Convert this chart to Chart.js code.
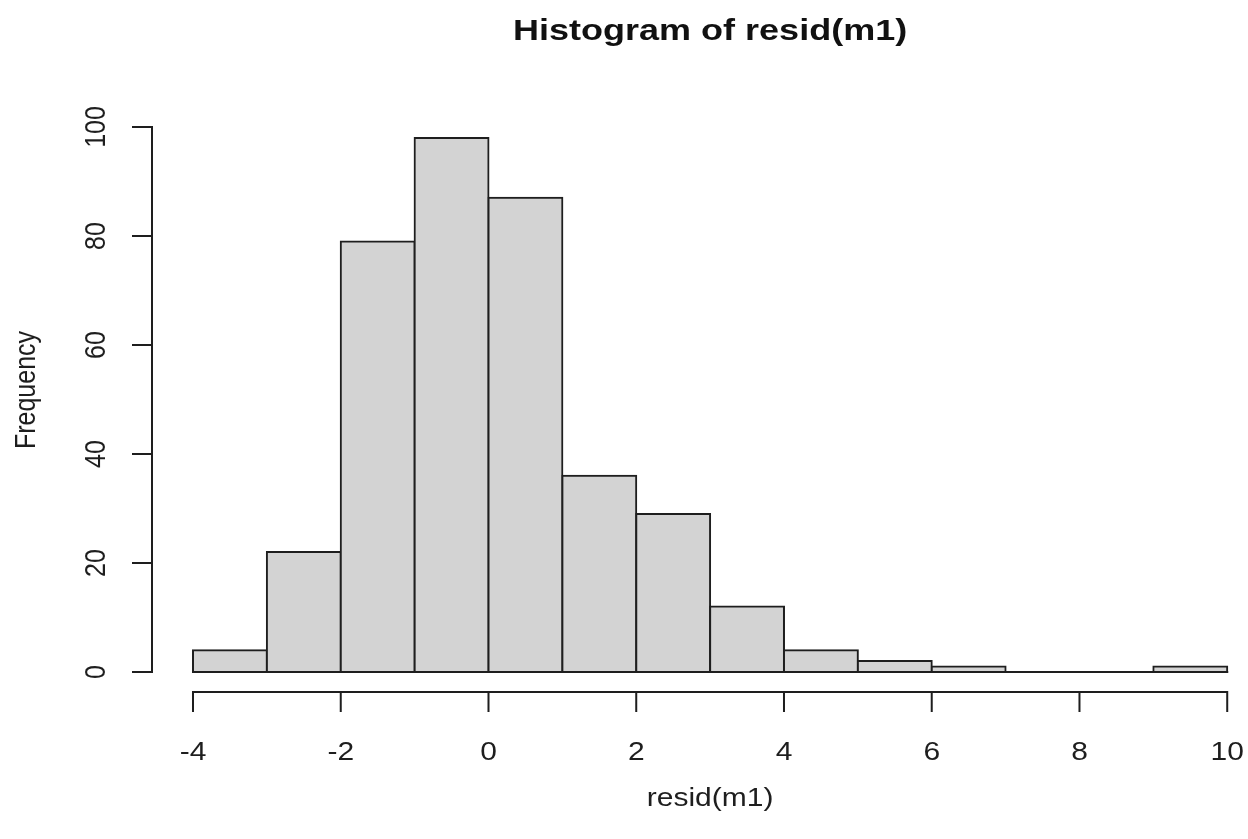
<!DOCTYPE html>
<html>
<head>
<meta charset="utf-8">
<title>Histogram of resid(m1)</title>
<script src="https://cdn.jsdelivr.net/npm/chart.js@4/dist/chart.umd.min.js"></script>
<style>
  html, body { margin: 0; padding: 0; background: #fff; }
  #hist { display: block; }
</style>
</head>
<body>
<canvas id="hist" width="1248" height="839"></canvas>
<script>
// bin edges and counts of the residuals
const breaks = [-4, -3, -2, -1, 0, 1, 2, 3, 4, 5, 6, 7, 8, 9, 10];
const counts = [4, 22, 79, 98, 87, 36, 29, 12, 4, 2, 1, 0, 0, 1];
const xTicks = [-4, -2, 0, 2, 4, 6, 8, 10];
const yTicks = [0, 20, 40, 60, 80, 100];
const mainTitle = 'Histogram of resid(m1)';
const xTitle = 'resid(m1)';
const yTitle = 'Frequency';

const mids = counts.map((c, i) => ({ x: (breaks[i] + breaks[i + 1]) / 2, y: c }));

const INK = '#1e1e1e';
const FONT = '"Liberation Sans", Arial, sans-serif';
const SX = 1.2; // text is a little wider than tall

function txt(ctx, s, x, y, rot) {
  ctx.save();
  ctx.translate(x, y);
  ctx.scale(SX, 1);
  if (rot) ctx.rotate(rot);
  ctx.fillText(s, 0, 0);
  ctx.restore();
}

// base-graphics style axes, labels and titles
const rAxes = {
  id: 'rAxes',
  afterDatasetsDraw(chart) {
    const { ctx, chartArea: a, scales: { x, y } } = chart;
    ctx.save();
    ctx.strokeStyle = INK;
    ctx.lineWidth = 2;
    ctx.lineCap = 'butt';

    // zero line under empty bins
    const y0 = y.getPixelForValue(0);
    ctx.beginPath();
    ctx.moveTo(x.getPixelForValue(breaks[0]) - 1, y0);
    ctx.lineTo(x.getPixelForValue(breaks[breaks.length - 1]) + 1, y0);
    ctx.stroke();

    // x axis
    const xa = a.bottom;
    ctx.beginPath();
    ctx.moveTo(x.getPixelForValue(xTicks[0]), xa);
    ctx.lineTo(x.getPixelForValue(xTicks[xTicks.length - 1]), xa);
    xTicks.forEach(v => {
      const px = x.getPixelForValue(v);
      ctx.moveTo(px, xa - 1);
      ctx.lineTo(px, xa + 20);
    });
    ctx.stroke();

    // y axis
    const ya = a.left;
    ctx.beginPath();
    ctx.moveTo(ya, y.getPixelForValue(yTicks[0]));
    ctx.lineTo(ya, y.getPixelForValue(yTicks[yTicks.length - 1]));
    yTicks.forEach(v => {
      const py = y.getPixelForValue(v);
      ctx.moveTo(ya + 1, py);
      ctx.lineTo(ya - 20, py);
    });
    ctx.stroke();

    ctx.fillStyle = INK;
    ctx.textAlign = 'center';
    ctx.textBaseline = 'alphabetic';
    ctx.font = '25px ' + FONT;
    xTicks.forEach(v => txt(ctx, String(v), x.getPixelForValue(v), 760));
    yTicks.forEach(v => txt(ctx, String(v), 105, y.getPixelForValue(v), -Math.PI / 2));

    txt(ctx, xTitle, x.getPixelForValue((breaks[0] + breaks[breaks.length - 1]) / 2), 806);
    txt(ctx, yTitle, 35, 390, -Math.PI / 2);

    ctx.fillStyle = '#111';
    ctx.font = 'bold 30px ' + FONT;
    txt(ctx, mainTitle, x.getPixelForValue((breaks[0] + breaks[breaks.length - 1]) / 2), 40);
    ctx.restore();
  }
};

new Chart(document.getElementById('hist'), {
  type: 'bar',
  data: {
    datasets: [{
      data: mids,
      backgroundColor: '#d3d3d3',
      borderColor: INK,
      borderWidth: 2,
      borderSkipped: false,
      inflateAmount: 1,
      barPercentage: 1,
      categoryPercentage: 1
    }]
  },
  options: {
    responsive: false,
    animation: false,
    devicePixelRatio: 1,
    layout: { padding: { left: 152, top: 116, right: 6, bottom: 147 } },
    plugins: { legend: { display: false }, tooltip: { enabled: false } },
    scales: {
      x: { type: 'linear', offset: false, grid: { offset: false }, min: -4.555, max: 10.2, display: false },
      y: { min: -3.67, max: 102.02, display: false }
    }
  },
  plugins: [rAxes]
});
</script>
</body>
</html>
